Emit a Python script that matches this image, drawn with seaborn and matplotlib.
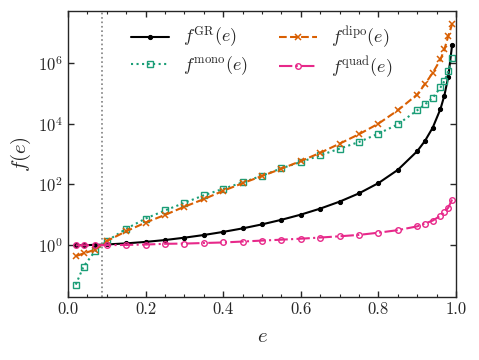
import matplotlib
matplotlib.use('Agg')
import matplotlib.pyplot as plt
import matplotlib.ticker as mticker
import seaborn as sns

# eccentricity grid and enhancement factors
e = [0.02, 0.04, 0.07, 0.1, 0.15, 0.2, 0.25, 0.3, 0.35, 0.4, 0.45, 0.5, 0.55,
     0.6, 0.65, 0.7, 0.75, 0.8, 0.85, 0.9, 0.92, 0.94, 0.96, 0.97, 0.98, 0.99]
f_gr = [1.003, 1.011, 1.032, 1.067, 1.157, 1.295, 1.49, 1.78, 2.18, 2.76, 3.60,
        4.88, 6.90, 10.2, 16.1, 27.3, 51.1, 111, 302, 1243, 2711, 7410, 30600,
        84000, 346000, 3.9e6]
f_mono = [0.051, 0.20, 0.65, 1.38, 3.5, 7.6, 14, 25, 44, 72, 117, 195, 340, 550,
          910, 1510, 2500, 4700, 9500, 27500, 43000, 71000, 155000, 250000,
          540000, 1.48e6]
f_dipo = [0.44, 0.54, 0.72, 1.38, 2.9, 5.6, 10, 18.6, 33, 62, 110, 190, 330, 590,
          1100, 2200, 4500, 10000, 27500, 91000, 200000, 470000, 1.29e6, 2.75e6,
          7.6e6, 1.86e7]
f_quad = [1.0, 1.0, 1.0, 1.01, 1.03, 1.06, 1.12, 1.14, 1.19, 1.24, 1.33, 1.43,
          1.53, 1.65, 1.8, 1.98, 2.2, 2.6, 3.15, 4.2, 5.2, 6.5, 9.4, 12.3, 17.3, 32]
e_ref = 0.087

sns.set_style("ticks")
plt.rcParams['font.family'] = 'serif'
plt.rcParams['font.serif'] = ['cmr10', 'DejaVu Serif']
plt.rcParams['mathtext.fontset'] = 'cm'
plt.rcParams['axes.formatter.use_mathtext'] = True

fig = plt.figure(figsize=(4.79, 3.6), dpi=100)
ax = fig.add_axes([0.142, 0.175, 0.810, 0.794])

sns.lineplot(x=e, y=f_gr, ax=ax, color='black', lw=1.5, marker='o', ms=3,
             mec='black', label=r'$f^{\rm GR}(e)$')
sns.lineplot(x=e, y=f_mono, ax=ax, color='#1b9e77', lw=1.5, ls=':', marker='s',
             ms=3.8, mfc='none', mec='#1b9e77', mew=1.0, label=r'$f^{\rm mono}(e)$')
sns.lineplot(x=e, y=f_dipo, ax=ax, color='#d95f02', lw=1.5, ls='--', marker='x',
             ms=5, mew=1.1, mec='#d95f02', label=r'$f^{\rm dipo}(e)$')
sns.lineplot(x=e, y=f_quad, ax=ax, color='#e7298a', lw=1.5, ls='-.', marker='o',
             ms=4, mfc='none', mec='#e7298a', mew=1.0, label=r'$f^{\rm quad}(e)$')

ax.axvline(e_ref, color='grey', ls=':', lw=1.2)

ax.set_yscale('log')
ax.set_xlim(0, 1)
ax.set_ylim(10**-1.7, 10**7.7)
ax.set_yticks([1e0, 1e2, 1e4, 1e6])
ax.yaxis.set_minor_locator(mticker.NullLocator())
ax.xaxis.set_major_locator(mticker.MultipleLocator(0.2))
ax.xaxis.set_minor_locator(mticker.MultipleLocator(0.05))
ax.xaxis.set_major_formatter(mticker.FormatStrFormatter('%.1f'))
ax.tick_params(which='both', direction='in', top=True, right=True, labelsize=12)
ax.tick_params(which='major', length=4, width=1)
ax.tick_params(which='minor', length=2, width=0.8)
for s in ax.spines.values():
    s.set_linewidth(1.0)

ax.set_xlabel(r'$e$', fontsize=15, labelpad=8)
ax.set_ylabel(r'$f(e)$', fontsize=15)

ax.legend(ncol=2, frameon=False, loc='upper center', bbox_to_anchor=(0.5, 1.01),
          fontsize=13, handlelength=2.1, handletextpad=0.8, columnspacing=1.7,
          labelspacing=0.2)

fig.savefig('out.png', dpi=100)
